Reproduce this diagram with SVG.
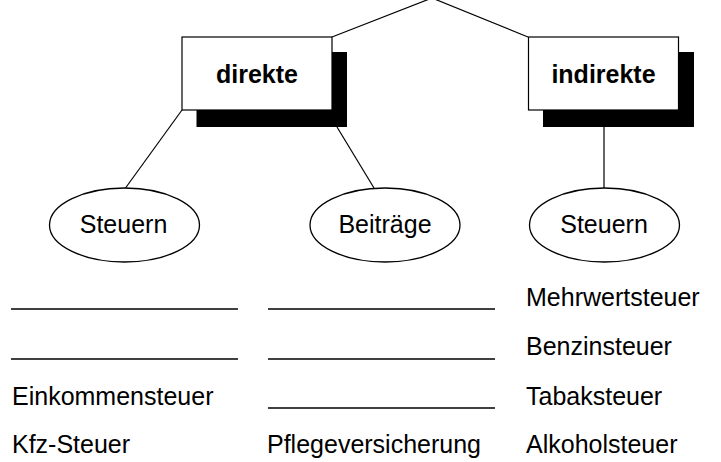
<svg xmlns="http://www.w3.org/2000/svg" width="721" height="462" viewBox="0 0 721 462">
<style>
.box{fill:#fff;stroke:#000;stroke-width:1.2}
.shadow{fill:#000}
.ell{fill:#fff;stroke:#000;stroke-width:1.3}
.conn{fill:none;stroke:#000;stroke-width:1.2}
.blank{stroke:#000;stroke-width:1.5}
.t{font-family:"Liberation Sans",Arial,sans-serif;font-size:25px;fill:#000}
.b{font-weight:bold}
.m{text-anchor:middle}
</style>
<rect width="721" height="462" fill="#fff"/>
<g id="connectors">
<polyline class="conn" points="332,37 432,-2 528,37"/>
<line class="conn" x1="182" y1="110" x2="125.5" y2="188"/>
<line class="conn" x1="337" y1="127" x2="374" y2="188"/>
<line class="conn" x1="604" y1="127" x2="604" y2="188"/>
</g>
<g id="direkte">
<rect class="shadow" x="196.5" y="52" width="150.5" height="75"/>
<rect class="box" x="182" y="37" width="150" height="73"/>
<text class="t b m" x="257" y="83">direkte</text>
</g>
<g id="indirekte">
<rect class="shadow" x="543" y="52" width="151" height="75"/>
<rect class="box" x="528.5" y="37" width="150" height="73"/>
<text class="t b m" x="603.5" y="83">indirekte</text>
</g>
<g id="steuern-direkt">
<ellipse class="ell" cx="124.5" cy="225" rx="75" ry="37"/>
<text class="t m" x="123.5" y="233">Steuern</text>
</g>
<g id="beitraege">
<ellipse class="ell" cx="385" cy="225" rx="75" ry="37"/>
<text class="t m" x="385" y="233">Beiträge</text>
</g>
<g id="steuern-indirekt">
<ellipse class="ell" cx="604.5" cy="225" rx="75" ry="37"/>
<text class="t m" x="604" y="233">Steuern</text>
</g>
<g id="list-left">
<line class="blank" x1="11" y1="309" x2="238" y2="309"/>
<line class="blank" x1="11" y1="359" x2="238" y2="359"/>
<text class="t" x="12" y="405">Einkommensteuer</text>
<text class="t" x="12" y="453">Kfz-Steuer</text>
</g>
<g id="list-middle">
<line class="blank" x1="268" y1="309" x2="495" y2="309"/>
<line class="blank" x1="268" y1="359" x2="495" y2="359"/>
<line class="blank" x1="268" y1="408" x2="495" y2="408"/>
<text class="t" x="267" y="453">Pflegeversicherung</text>
</g>
<g id="list-right">
<text class="t" x="526" y="306">Mehrwertsteuer</text>
<text class="t" x="526" y="355">Benzinsteuer</text>
<text class="t" x="526" y="405">Tabaksteuer</text>
<text class="t" x="526" y="453">Alkoholsteuer</text>
</g>
</svg>
